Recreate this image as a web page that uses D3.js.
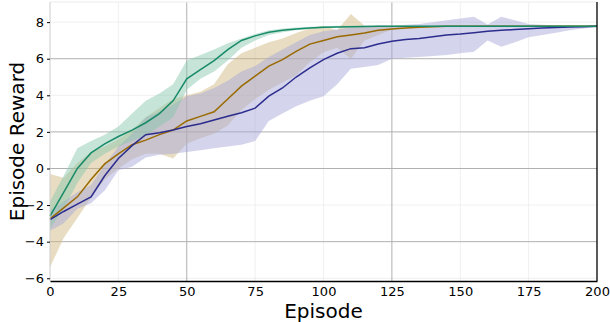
<!DOCTYPE html>
<html>
<head>
<meta charset="utf-8">
<script src="https://cdn.jsdelivr.net/npm/d3@7"></script>
<style>
  body { margin: 0; background: #fff; }
  svg text { font-family: "DejaVu Sans", sans-serif; fill: #000; }
</style>
</head>
<body>
<div id="chart"></div>
<script>
// episodes sampled every 5
const episodes = d3.range(0, 201, 5);

const greenMean = [-2.6, -1.3, 0.0, 0.85, 1.35, 1.75, 2.1, 2.5, 3.0, 3.7, 4.9, 5.4, 5.9, 6.5, 7.0, 7.25, 7.45, 7.55, 7.62, 7.68, 7.72, 7.74, 7.75, 7.76, 7.77,
  7.78, 7.78, 7.78, 7.78, 7.78, 7.78, 7.78, 7.78, 7.78, 7.78, 7.78, 7.78, 7.78, 7.78, 7.78, 7.78];
const greenUpper = [-1.8, -0.4, 1.1, 1.5, 1.85, 2.3, 3.0, 3.7, 4.1, 4.6, 5.9, 6.2, 6.5, 6.85, 7.1, 7.35, 7.55, 7.65, 7.7, 7.75, 7.78, 7.8, 7.8, 7.8, 7.8,
  7.8, 7.8, 7.8, 7.8, 7.8, 7.8, 7.8, 7.8, 7.8, 7.8, 7.8, 7.8, 7.8, 7.8, 7.8, 7.8];
const greenLower = [-3.3, -2.2, -0.8, 0.3, 0.8, 1.2, 1.5, 1.8, 2.3, 2.8, 4.3, 4.9, 5.3, 5.9, 6.6, 7.0, 7.3, 7.45, 7.55, 7.62, 7.66, 7.7, 7.72, 7.74, 7.75,
  7.76, 7.76, 7.76, 7.76, 7.76, 7.76, 7.76, 7.76, 7.76, 7.76, 7.76, 7.76, 7.76, 7.76, 7.76, 7.76];

const goldMean = [-2.75, -2.15, -1.55, -0.6, 0.25, 0.8, 1.3, 1.55, 1.85, 2.1, 2.6, 2.85, 3.1, 3.8, 4.5, 5.05, 5.6, 5.95, 6.4, 6.8, 7.0, 7.2, 7.3, 7.4, 7.55,
  7.62, 7.68, 7.72, 7.75, 7.77, 7.78, 7.78, 7.78, 7.78, 7.78, 7.78, 7.78, 7.78, 7.78, 7.78, 7.78];
const goldUpper = [-0.3, -0.5, 0.3, 0.9, 1.2, 1.6, 2.1, 2.8, 3.3, 3.8, 4.0, 4.2, 4.6, 5.7, 6.3, 6.6, 6.9, 7.1, 7.4, 7.65, 7.8, 7.55, 8.45, 7.8, 7.8,
  7.8, 7.8, 7.8, 7.8, 7.8, 7.8, 7.8, 7.8, 7.8, 7.8, 7.8, 7.8, 7.8, 7.8, 7.8, 7.8];
const goldLower = [-5.4, -3.8, -2.7, -1.6, -0.6, 0.0, 0.5, 0.8, 0.8, 0.55, 1.35, 1.65, 1.9, 2.35, 3.2, 3.8, 4.3, 4.7, 5.1, 5.8, 6.35, 6.6, 6.0, 7.0, 7.3,
  7.6, 7.7, 7.75, 7.76, 7.76, 7.76, 7.76, 7.76, 7.76, 7.76, 7.76, 7.76, 7.76, 7.76, 7.76, 7.76];

const blueMean = [-2.8, -2.35, -1.95, -1.55, -0.4, 0.55, 1.25, 1.85, 1.95, 2.1, 2.3, 2.45, 2.65, 2.85, 3.05, 3.3, 3.95, 4.4, 5.0, 5.5, 5.95, 6.3, 6.55, 6.6, 6.8,
  6.95, 7.05, 7.1, 7.2, 7.3, 7.35, 7.42, 7.5, 7.55, 7.6, 7.64, 7.68, 7.7, 7.73, 7.75, 7.78];
const blueUpper = [-2.3, -1.8, -1.3, -0.9, 0.2, 1.2, 1.9, 2.8, 3.1, 3.5, 3.95, 4.1, 4.4, 4.8, 5.3, 5.6, 6.1, 6.5, 6.9, 7.3, 7.5, 7.6, 7.7, 7.75, 7.8,
  7.8, 7.85, 7.9, 8.0, 8.1, 8.2, 8.3, 7.87, 8.3, 8.1, 7.9, 7.85, 7.82, 7.8, 7.79, 7.78];
const blueLower = [-3.4, -3.0, -2.2, -1.9, -1.2, -0.1, 0.1, 0.6, 0.75, 0.8, 0.9, 1.0, 1.1, 1.2, 1.3, 1.5, 2.6, 3.0, 3.4, 3.7, 3.95, 4.6, 5.45, 5.55, 5.65,
  6.0, 6.05, 6.1, 6.15, 6.2, 6.3, 6.38, 7.0, 6.65, 6.9, 7.18, 7.3, 7.42, 7.55, 7.65, 7.72];

const xTicks = [0, 25, 50, 75, 100, 125, 150, 175, 200];
const yTicks = [-6, -4, -2, 0, 2, 4, 6, 8];

const width = 610, height = 322;
const margin = { top: 2, right: 13, bottom: 41, left: 50 };

const svg = d3.select("#chart").append("svg")
    .attr("width", width)
    .attr("height", height);

const x = d3.scaleLinear().domain([0, 200]).range([margin.left, width - margin.right]);
const y = d3.scaleLinear().domain([-6.15, 9.1]).range([height - margin.bottom, margin.top]);

// light grid
const g = svg.append("g");
g.selectAll(".vminor")
    .data([25, 75, 100, 150, 175])
    .join("line")
    .attr("x1", d => x(d)).attr("x2", d => x(d))
    .attr("y1", y.range()[1]).attr("y2", y.range()[0])
    .attr("stroke", "#ececec").attr("stroke-width", 0.8);
g.selectAll(".hminor")
    .data([-6, -2, 4, 8])
    .join("line")
    .attr("x1", x(0)).attr("x2", x(200))
    .attr("y1", d => y(d)).attr("y2", d => y(d))
    .attr("stroke", "#ececec").attr("stroke-width", 0.8);

// strong grid
g.selectAll(".vmajor")
    .data([50, 125])
    .join("line")
    .attr("x1", d => x(d)).attr("x2", d => x(d))
    .attr("y1", y.range()[1]).attr("y2", y.range()[0])
    .attr("stroke", "#b0b0b0").attr("stroke-width", 1);
g.selectAll(".hmajor")
    .data([-4, 0, 2, 6])
    .join("line")
    .attr("x1", x(0)).attr("x2", x(200))
    .attr("y1", d => y(d)).attr("y2", d => y(d))
    .attr("stroke", "#b0b0b0").attr("stroke-width", 1);

const series = [
    { name: "gold", mean: goldMean, upper: goldUpper, lower: goldLower, color: "#9a6a00", fill: "#cfb67e" },
    { name: "blue", mean: blueMean, upper: blueUpper, lower: blueLower, color: "#2c2c8e", fill: "#a3a5d6" },
    { name: "green", mean: greenMean, upper: greenUpper, lower: greenLower, color: "#178a68", fill: "#86c6ad" }
];

const area = d3.area()
    .x((d, i) => x(episodes[i]))
    .y0(d => y(d[0]))
    .y1(d => y(d[1]));

const line = d3.line()
    .x((d, i) => x(episodes[i]))
    .y(d => y(d));

svg.append("g").selectAll("path")
    .data(series)
    .join("path")
    .attr("d", s => area(s.lower.map((v, i) => [v, s.upper[i]])))
    .attr("fill", s => s.fill)
    .attr("fill-opacity", 0.47);

svg.append("g").selectAll("path")
    .data(series)
    .join("path")
    .attr("d", s => line(s.mean))
    .attr("fill", "none")
    .attr("stroke", s => s.color)
    .attr("stroke-width", 1.5);

// frame: light top/left, black bottom/right
svg.append("line")
    .attr("x1", x(0)).attr("x2", x(200)).attr("y1", y.range()[1]).attr("y2", y.range()[1])
    .attr("stroke", "#ececec");
svg.append("line")
    .attr("x1", x(0)).attr("x2", x(0)).attr("y1", y.range()[1]).attr("y2", y.range()[0])
    .attr("stroke", "#cccccc");

const xAxis = svg.append("g")
    .attr("transform", `translate(0,${y.range()[0]})`)
    .call(d3.axisBottom(x).tickValues(xTicks).tickSize(0).tickPadding(6));
xAxis.select(".domain").attr("stroke", "#000").attr("stroke-width", 1.3);
xAxis.selectAll("text").style("font-size", "13px");

const yAxis = svg.append("g")
    .attr("transform", `translate(${x(0)},0)`)
    .call(d3.axisLeft(y).tickValues(yTicks).tickSize(3).tickPadding(3)
        .tickFormat(d => d < 0 ? "\u2212" + Math.abs(d) : d));
yAxis.select(".domain").remove();
yAxis.selectAll("text").style("font-size", "13px");

svg.append("line")
    .attr("x1", x(200)).attr("x2", x(200)).attr("y1", y.range()[1]).attr("y2", y.range()[0])
    .attr("stroke", "#000").attr("stroke-width", 1.3);

svg.append("text")
    .attr("x", (x(0) + x(200)) / 2)
    .attr("y", 318)
    .attr("text-anchor", "middle")
    .style("font-size", "20px")
    .text("Episode");

svg.append("text")
    .attr("transform", `translate(24,${(y.range()[0] + y.range()[1]) / 2}) rotate(-90)`)
    .attr("text-anchor", "middle")
    .style("font-size", "20px")
    .text("Episode Reward");
</script>
</body>
</html>
